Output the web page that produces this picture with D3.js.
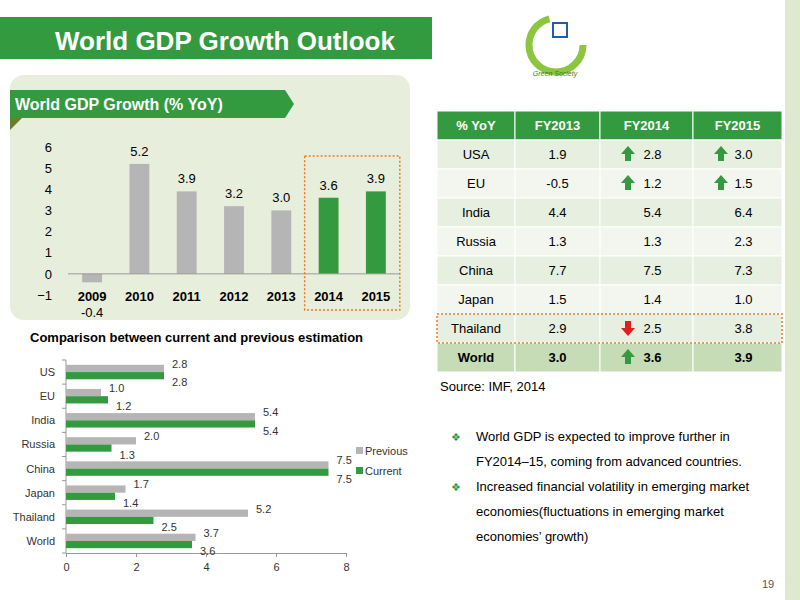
<!DOCTYPE html>
<html><head><meta charset="utf-8">
<script src="https://cdn.jsdelivr.net/npm/d3@7"></script>
<style>body{margin:0;background:#fff}svg{font-family:"Liberation Sans",Arial,sans-serif}</style>
</head><body><svg id="c" width="800" height="600"></svg>
<script>
var years = ["2009","2010","2011","2012","2013","2014","2015"];
var growth = [-0.4, 5.2, 3.9, 3.2, 3.0, 3.6, 3.9];
var yTicks = [-1,0,1,2,3,4,5,6];

var tblHead = ["% YoY","FY2013","FY2014","FY2015"];
var tblRows = ["USA","EU","India","Russia","China","Japan","Thailand","World"];
var fy13 = ["1.9","-0.5","4.4","1.3","7.7","1.5","2.9","3.0"];
var fy14 = ["2.8","1.2","5.4","1.3","7.5","1.4","2.5","3.6"];
var fy15 = ["3.0","1.5","6.4","2.3","7.3","1.0","3.8","3.9"];
var arr14 = ["up","up","","","","","down","up"];
var arr15 = ["up","up","","","","","",""];

var countries = ["US","EU","India","Russia","China","Japan","Thailand","World"];
var previous = [2.8, 1.0, 5.4, 2.0, 7.5, 1.7, 5.2, 3.7];
var current = [2.8, 1.2, 5.4, 1.3, 7.5, 1.4, 2.5, 3.6];

var G = "#339a3f", GR = "#b5b5b5";
var FF = "'Liberation Sans',Arial,sans-serif";
var svg = d3.select("#c");

// slide decoration
svg.append("rect").attr("x",785).attr("y",0).attr("width",15).attr("height",600).attr("fill","#dfe9cf");
svg.append("rect").attr("x",0).attr("y",17).attr("width",432).attr("height",42).attr("fill",G);
svg.append("text").attr("x",55).attr("y",50).attr("fill","#fff").attr("font-size",26).attr("font-weight","bold").text("World GDP Growth Outlook");

// logo
var lg = svg.append("g").attr("transform","translate(556,45)");
lg.append("circle").attr("r",27).attr("fill","none").attr("stroke","#8cc63f").attr("stroke-width",7).attr("stroke-dasharray","120 50");
lg.append("rect").attr("x",-3).attr("y",-22).attr("width",14).attr("height",14).attr("fill","#fff").attr("stroke","#1d5fa8").attr("stroke-width",2);
lg.append("text").attr("x",-1).attr("y",31).attr("text-anchor","middle").attr("font-size",7).attr("fill","#2e7d32").attr("font-style","italic").text("Green Society");

// panel
svg.append("rect").attr("x",10).attr("y",75).attr("width",400).attr("height",245).attr("rx",14).attr("fill","#e8eedc");
svg.append("path").attr("d","M10,90 H285 L294,104 L285,118 H10 Z").attr("fill",G);
svg.append("path").attr("d","M10,118 H22 L10,130 Z").attr("fill","#6b7f2a");
svg.append("text").attr("x",15).attr("y",110).attr("fill","#fff").attr("font-size",16).attr("font-weight","bold").text("World GDP Growth (% YoY)");

// column chart
var x = d3.scaleBand().domain(years).range([68,400]).paddingInner(0.58).paddingOuter(0.3);
var y = d3.scaleLinear().domain([-1,6]).range([295,147]);
var cg = svg.append("g");
cg.append("g").attr("transform","translate(52,0)").call(d3.axisLeft(y).tickValues(yTicks).tickSize(0).tickPadding(0).tickFormat(d3.format("d")))
  .call(g=>g.select(".domain").remove()).selectAll("text").attr("font-size",13).attr("fill","#000").attr("font-family",FF);
cg.selectAll("rect.b").data(growth).join("rect").attr("class","b")
  .attr("x",(d,i)=>x(years[i])).attr("width",x.bandwidth())
  .attr("y",d=>y(Math.max(d,0))).attr("height",d=>Math.abs(y(d)-y(0)))
  .attr("fill",(d,i)=>i>=5?G:GR);
cg.append("line").attr("x1",68).attr("x2",400).attr("y1",y(0)).attr("y2",y(0)).attr("stroke","#999");
cg.selectAll("text.yr").data(years).join("text").attr("class","yr").attr("x",d=>x(d)+x.bandwidth()/2).attr("y",301)
  .attr("text-anchor","middle").attr("font-size",13).attr("font-weight","bold").text(d=>d);
cg.selectAll("text.v").data(growth).join("text").attr("class","v")
  .attr("x",(d,i)=>x(years[i])+x.bandwidth()/2).attr("y",d=>d<0?317:y(d)-8)
  .attr("text-anchor","middle").attr("font-size",13).text(d=>d.toFixed(1));
cg.append("rect").attr("x",x("2014")-14).attr("y",156).attr("width",x("2015")-x("2014")+x.bandwidth()+28).attr("height",154)
  .attr("fill","none").attr("stroke","#e87b2a").attr("stroke-width",1.5).attr("stroke-dasharray","2 2");

// table
var cols = [437,515,600,693,782], rowY0 = 111, rh = 29;
var tg = svg.append("g");
tblHead.forEach(function(h,j){
  tg.append("rect").attr("x",cols[j]).attr("y",rowY0).attr("width",cols[j+1]-cols[j]).attr("height",rh).attr("fill",G).attr("stroke","#fff");
  tg.append("text").attr("x",(cols[j]+cols[j+1])/2).attr("y",rowY0+19).attr("text-anchor","middle").attr("fill","#fff").attr("font-size",13).attr("font-weight","bold").text(h);
});
function arrow(g,cx,cy,dir){
  var p = dir==="up" ? "M0,-8 L7,0 L3,0 L3,7 L-3,7 L-3,0 L-7,0 Z" : "M0,8 L7,0 L3,0 L3,-7 L-3,-7 L-3,0 L-7,0 Z";
  g.append("path").attr("d",p).attr("transform","translate("+cx+","+cy+")").attr("fill",dir==="up"?G:"#e02020");
}
tblRows.forEach(function(r,i){
  var yy = rowY0+rh*(i+1), last = i===tblRows.length-1;
  var vals = [r,fy13[i],fy14[i],fy15[i]];
  vals.forEach(function(v,j){
    tg.append("rect").attr("x",cols[j]).attr("y",yy).attr("width",cols[j+1]-cols[j]).attr("height",rh)
      .attr("fill",last?"#c6dcb6":(i%2?"#f2f6ee":"#e6efe0")).attr("stroke","#fff");
    tg.append("text").attr("x",(cols[j]+cols[j+1])/2+(j>1?6:0)).attr("y",yy+19).attr("text-anchor","middle")
      .attr("font-size",13).attr("font-weight",last?"bold":"normal").text(v);
  });
  if (arr14[i]) arrow(tg,cols[2]+28,yy+14,arr14[i]);
  if (arr15[i]) arrow(tg,cols[3]+28,yy+14,arr15[i]);
});
var ti = tblRows.indexOf("Thailand");
tg.append("rect").attr("x",cols[0]).attr("y",rowY0+rh*(ti+1)).attr("width",cols[4]-cols[0]).attr("height",rh)
  .attr("fill","none").attr("stroke","#e87b2a").attr("stroke-width",1.5).attr("stroke-dasharray","2 2");

svg.append("text").attr("x",440).attr("y",391).attr("font-size",13).text("Source: IMF, 2014");
var bullets = [["World GDP is expected to improve further in","FY2014\u201315, coming from advanced countries."],
  ["Increased financial volatility in emerging market","economies(fluctuations in emerging market","economies\u2019 growth)"]];
var by = 441;
bullets.forEach(function(b){
  svg.append("text").attr("x",451).attr("y",by).attr("font-size",11).attr("fill",G).text("\u2756");
  b.forEach(function(l,k){ svg.append("text").attr("x",476).attr("y",by+k*25).attr("font-size",13).text(l); });
  by += 50;
});

// horizontal bar chart
svg.append("text").attr("x",30).attr("y",342).attr("font-size",13).attr("font-weight","bold").text("Comparison between current  and previous estimation");
var hx = d3.scaleLinear().domain([0,8]).range([66,346]);
var hy = d3.scaleBand().domain(countries).range([360,553]).paddingInner(0.4).paddingOuter(0.2);
var hg = svg.append("g").attr("font-size",11);
hg.append("g").attr("transform","translate(0,553)").call(d3.axisBottom(hx).ticks(4).tickSize(4).tickPadding(6))
  .call(g=>g.select(".domain").attr("stroke","#999")).call(g=>g.selectAll("line").attr("stroke","#999"))
  .selectAll("text").attr("font-size",11).attr("font-family",FF).attr("fill","#333");
hg.append("line").attr("x1",66).attr("x2",66).attr("y1",360).attr("y2",553).attr("stroke","#999");
hg.selectAll("line.t").data(d3.range(countries.length+1)).join("line").attr("class","t")
  .attr("x1",62).attr("x2",66).attr("y1",d=>360+d*(193/countries.length)).attr("y2",d=>360+d*(193/countries.length)).attr("stroke","#999");
var bh = hy.bandwidth()/2;
hg.selectAll("text.c").data(countries).join("text").attr("class","c").attr("x",55).attr("y",d=>hy(d)+bh+4)
  .attr("text-anchor","end").attr("fill","#333").text(d=>d);
hg.selectAll("rect.p").data(previous).join("rect").attr("class","p").attr("x",66).attr("y",(d,i)=>hy(countries[i]))
  .attr("width",d=>hx(d)-66).attr("height",bh).attr("fill",GR);
hg.selectAll("rect.q").data(current).join("rect").attr("class","q").attr("x",66).attr("y",(d,i)=>hy(countries[i])+bh)
  .attr("width",d=>hx(d)-66).attr("height",bh).attr("fill",G);
hg.selectAll("text.pv").data(previous).join("text").attr("class","pv").attr("x",d=>hx(d)+8).attr("y",(d,i)=>hy(countries[i])+3)
  .attr("fill","#333").text(d=>d.toFixed(1));
hg.selectAll("text.cv").data(current).join("text").attr("class","cv").attr("x",d=>hx(d)+8).attr("y",(d,i)=>hy(countries[i])+2*bh+7)
  .attr("fill","#333").text(d=>d.toFixed(1));
[["Previous",GR],["Current",G]].forEach(function(l,i){
  hg.append("rect").attr("x",356).attr("y",447+i*20).attr("width",7).attr("height",7).attr("fill",l[1]);
  hg.append("text").attr("x",365).attr("y",455+i*20).attr("fill","#333").text(l[0]);
});

svg.append("text").attr("x",762).attr("y",588).attr("font-size",11).attr("fill","#555").text("19");
</script></body></html>
